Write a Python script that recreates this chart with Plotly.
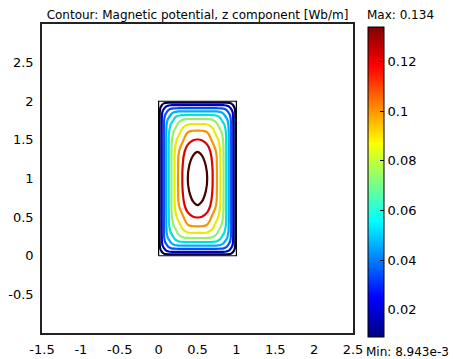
import plotly.graph_objects as go

# ---- data ----
V_MIN = 8.943e-3          # "Min" label
V_MAX = 0.134             # "Max" label

# 10 contour levels, evenly spaced between min and max
contour_levels = [0.01520, 0.02770, 0.04021, 0.05271, 0.06522,
                  0.07773, 0.09023, 0.10274, 0.11524, 0.12775]

# profile along the horizontal centre line y = 1:
# distance from the long side (x = 0) and the potential there [Wb/m]
x_profile_dist = [0.0, 0.013, 0.040, 0.068, 0.098, 0.130, 0.165,
                  0.205, 0.250, 0.305, 0.375, 0.445, 0.500]
x_profile_val = [V_MIN, 0.01520, 0.02770, 0.04021, 0.05271, 0.06522, 0.07773,
                 0.09023, 0.10274, 0.11524, 0.12775, 0.13275, V_MAX]

# profile along the vertical centre line x = 0.5:
# distance from the short side (y = 0) and the potential there [Wb/m]
y_profile_dist = [0.0, 0.017, 0.050, 0.090, 0.130, 0.178, 0.230,
                  0.295, 0.380, 0.495, 0.655, 0.840, 1.000]
y_profile_val = [V_MIN, 0.01520, 0.02770, 0.04021, 0.05271, 0.06522, 0.07773,
                 0.09023, 0.10274, 0.11524, 0.12775, 0.13275, V_MAX]

# coil cross-section outline
rect_x = [0, 1, 1, 0, 0]
rect_y = [0, 0, 2, 2, 0]

x_ticks = [-1.5, -1, -0.5, 0, 0.5, 1, 1.5, 2, 2.5]
y_ticks = [-0.5, 0, 0.5, 1, 1.5, 2, 2.5]
cb_ticks = [0.02, 0.04, 0.06, 0.08, 0.1, 0.12]

# ---- potential table on the grid of profile points (symmetric domain) ----
x_nodes = x_profile_dist + [1 - d for d in reversed(x_profile_dist[:-1])]
x_vals = x_profile_val + list(reversed(x_profile_val[:-1]))
y_nodes = y_profile_dist + [2 - d for d in reversed(y_profile_dist[:-1])]
y_vals = y_profile_val + list(reversed(y_profile_val[:-1]))

span = V_MAX - V_MIN
z = []
for vy in y_vals:
    b = (V_MAX - vy) / span
    row = []
    for vx in x_vals:
        a = (V_MAX - vx) / span
        m = max(a, b)
        p = 1 + 7 * m * m
        d = (a ** p + b ** p) ** (1 / p) if m > 0 else 0.0
        row.append(V_MAX - span * min(d, 1.0))
    z.append(row)

line_scale = [
    [0.000, "rgb(0,0,60)"],
    [0.111, "rgb(0,0,190)"],
    [0.222, "rgb(0,80,255)"],
    [0.333, "rgb(0,170,255)"],
    [0.444, "rgb(0,225,215)"],
    [0.556, "rgb(150,240,110)"],
    [0.667, "rgb(235,235,0)"],
    [0.778, "rgb(245,150,0)"],
    [0.889, "rgb(220,0,0)"],
    [1.000, "rgb(75,0,0)"],
]
jet_bar = [
    [0.0, "rgb(0,0,128)"],
    [0.125, "rgb(0,0,255)"],
    [0.375, "rgb(0,255,255)"],
    [0.625, "rgb(255,255,0)"],
    [0.875, "rgb(255,0,0)"],
    [1.0, "rgb(128,0,0)"],
]

FONT = "DejaVu Sans"

fig = go.Figure()
step = (contour_levels[-1] - contour_levels[0]) / (len(contour_levels) - 1)
fig.add_trace(go.Contour(
    x=x_nodes, y=y_nodes, z=z,
    autocontour=False,
    contours=dict(start=contour_levels[0], end=contour_levels[-1] + step * 0.01,
                  size=step, coloring="lines"),
    line=dict(width=2.2, smoothing=1.3),
    colorscale=line_scale, zmin=contour_levels[0], zmax=contour_levels[-1],
    showscale=False, hoverinfo="skip",
))

fig.add_trace(go.Scatter(
    x=rect_x, y=rect_y, mode="lines",
    line=dict(color="black", width=1.2),
    showlegend=False, hoverinfo="skip",
))

fig.add_trace(go.Scatter(
    x=[None, None], y=[None, None], mode="markers",
    marker=dict(color=[V_MIN, V_MAX], cmin=V_MIN, cmax=V_MAX,
                colorscale=jet_bar, showscale=True,
                colorbar=dict(
                    x=(368 - 42) / 311, xanchor="left", xpad=0,
                    y=(333 - 182) / 309, yanchor="middle", ypad=0,
                    thickness=16, thicknessmode="pixels",
                    len=310, lenmode="pixels",
                    outlinewidth=1, outlinecolor="black",
                    tickvals=cb_ticks, ticktext=[f"{t:g}" for t in cb_ticks],
                    ticks="inside", ticklen=4, tickcolor="black",
                    tickfont=dict(family=FONT, size=13, color="black"),
                )),
    showlegend=False, hoverinfo="skip",
))

fig.update_layout(
    width=453, height=359, autosize=False,
    margin=dict(l=42, r=100, t=24, b=26, autoexpand=False),
    paper_bgcolor="white", plot_bgcolor="white",
    showlegend=False,
    title=dict(text="Contour: Magnetic potential, z component [Wb/m]",
               x=197.5 / 453, xanchor="center", y=1 - 15 / 359, yanchor="middle",
               font=dict(family=FONT, size=12, color="black")),
    font=dict(family=FONT, size=13, color="black"),
)
fig.update_xaxes(range=[-1.5, 2.5], tickvals=x_ticks, ticktext=[f"{t:g}" for t in x_ticks],
                 showgrid=False, zeroline=False, showline=True, mirror=True,
                 linecolor="#222", linewidth=1.5, ticks="", ticklabelstandoff=4,
                 automargin=False, tickfont=dict(family=FONT, size=13))
fig.update_yaxes(range=[-1, 3], tickvals=y_ticks, ticktext=[f"{t:g}" for t in y_ticks],
                 showgrid=False, zeroline=False, showline=True, mirror=True,
                 linecolor="#222", linewidth=1.5, ticks="", ticklabelstandoff=4,
                 automargin=False, tickfont=dict(family=FONT, size=13))

fig.add_annotation(text="Max: 0.134", xref="paper", yref="paper",
                   x=(400 - 42) / 311, y=1 + (24 - 15) / 309,
                   xanchor="center", yanchor="middle", showarrow=False,
                   font=dict(family=FONT, size=12, color="black"))
fig.add_annotation(text="Min: 8.943e-3", xref="paper", yref="paper",
                   x=(407 - 42) / 311, y=-(352 - 333) / 309,
                   xanchor="center", yanchor="middle", showarrow=False,
                   font=dict(family=FONT, size=12, color="black"))

fig.write_html("out.html")
